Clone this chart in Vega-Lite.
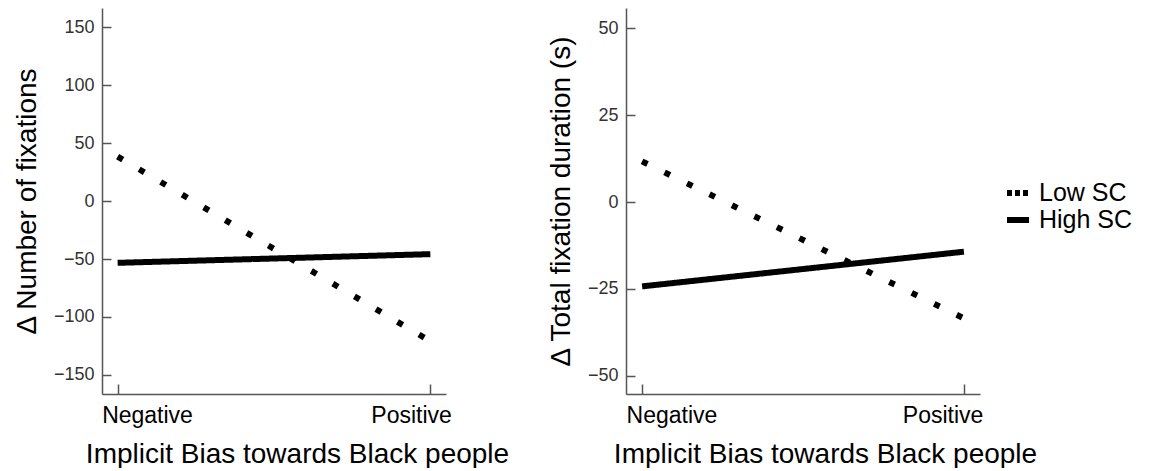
{
  "$schema": "https://vega.github.io/schema/vega-lite/v6.json",
  "padding": {"left": 13, "top": 8, "right": 0, "bottom": 0},
  "background": "white",
  "spacing": 38,
  "config": {
    "view": {"stroke": null},
    "font": "Liberation Sans",
    "axis": {
      "grid": false,
      "domainColor": "#555555",
      "domainWidth": 1.5,
      "tickColor": "#555555",
      "tickWidth": 1.5,
      "labelColor": "#333333",
      "titleColor": "#000000",
      "titleFontWeight": "normal",
      "labelFont": "Liberation Sans",
      "titleFont": "Liberation Sans"
    }
  },
  "datasets": {
    "fix": [
      {"bias": "Negative", "group": "Low SC", "value": 38.5},
      {"bias": "Positive", "group": "Low SC", "value": -121},
      {"bias": "Negative", "group": "High SC", "value": -53.3},
      {"bias": "Positive", "group": "High SC", "value": -45.8}
    ],
    "dur": [
      {"bias": "Negative", "group": "Low SC", "value": 11.7},
      {"bias": "Positive", "group": "Low SC", "value": -33.5},
      {"bias": "Negative", "group": "High SC", "value": -24.3},
      {"bias": "Positive", "group": "High SC", "value": -14.3}
    ]
  },
  "hconcat": [
    {
      "width": 344,
      "height": 386,
      "data": {"name": "fix"},
      "mark": {"type": "line", "strokeWidth": 6, "color": "black", "strokeCap": "butt"},
      "encoding": {
        "x": {
          "field": "bias", "type": "ordinal", "sort": ["Negative", "Positive"],
          "scale": {"type": "point", "padding": 0.05},
          "axis": {
            "title": "Implicit Bias towards Black people",
            "titleFontSize": 28, "titleX": 195, "titleY": 68, "titleBaseline": "alphabetic", "titleAlign": "center",
            "labelFontSize": 23, "labelColor": "#000000", "labelAngle": 0,
            "labelBaseline": "alphabetic",
            "labelAlign": {"condition": {"test": "datum.value == 'Negative'", "value": "left"}, "value": "right"},
            "labelOffset": {"condition": {"test": "datum.value == 'Negative'", "value": -16}, "value": 21},
            "tickSize": -10, "labelPadding": 38
          }
        },
        "y": {
          "field": "value", "type": "quantitative",
          "scale": {"domain": [-166.6, 166.8], "nice": false, "zero": false},
          "axis": {
            "title": "Δ Number of fixations",
            "titleFontSize": 28, "titlePadding": 12,
            "values": [-150, -100, -50, 0, 50, 100, 150],
            "labelFontSize": 18, "tickSize": -9, "labelPadding": 17
          }
        },
        "strokeDash": {
          "field": "group", "type": "nominal",
          "scale": {"domain": ["Low SC", "High SC"], "range": [[6, 19], [1, 0]]},
          "legend": null
        }
      }
    },
    {
      "width": 354,
      "height": 386,
      "data": {"name": "dur"},
      "encoding": {
        "x": {
          "field": "bias", "type": "ordinal", "sort": ["Negative", "Positive"],
          "scale": {"type": "point", "padding": 0.05},
          "axis": {
            "title": "Implicit Bias towards Black people",
            "titleFontSize": 28, "titleX": 199, "titleY": 68, "titleBaseline": "alphabetic", "titleAlign": "center",
            "labelFontSize": 23, "labelColor": "#000000", "labelAngle": 0,
            "labelBaseline": "alphabetic",
            "labelAlign": {"condition": {"test": "datum.value == 'Negative'", "value": "left"}, "value": "right"},
            "labelOffset": {"condition": {"test": "datum.value == 'Negative'", "value": -16}, "value": 19},
            "tickSize": -10, "labelPadding": 38
          }
        },
        "y": {
          "field": "value", "type": "quantitative",
          "scale": {"domain": [-55.3, 55.9], "nice": false, "zero": false},
          "axis": {
            "title": "Δ Total fixation duration (s)",
            "titleFontSize": 28, "titlePadding": 12,
            "values": [-50, -25, 0, 25, 50],
            "labelFontSize": 18, "tickSize": -9, "labelPadding": 17
          }
        }
      },
      "layer": [
        {
          "mark": {"type": "line", "strokeWidth": 6, "color": "black", "strokeCap": "butt"},
          "encoding": {
            "strokeDash": {
              "field": "group", "type": "nominal",
              "scale": {"domain": ["Low SC", "High SC"], "range": [[6, 19], [1, 0]]},
              "legend": null
            }
          }
        },
        {
          "mark": {"type": "line", "strokeWidth": 6, "color": "black", "strokeCap": "butt", "opacity": 0},
          "encoding": {
            "strokeDash": {
              "field": "group", "type": "nominal",
              "scale": {"domain": ["Low SC", "High SC"], "range": [[5, 3], [1, 0]]},
              "legend": {
                "title": null, "orient": "none", "legendX": 378, "legendY": 171, "padding": 0,
                "symbolType": "stroke", "symbolStrokeWidth": 6, "symbolSize": 484, "symbolStrokeColor": "black", "symbolOpacity": 1,
                "labelFontSize": 25, "labelColor": "#000000", "labelFont": "Liberation Sans", "labelOffset": 7, "rowPadding": -10
              }
            }
          }
        }
      ],
      "resolve": {"scale": {"strokeDash": "independent"}, "legend": {"strokeDash": "independent"}}
    }
  ],
  "resolve": {
    "scale": {"x": "independent", "y": "independent", "strokeDash": "independent"},
    "legend": {"strokeDash": "independent"}
  }
}
